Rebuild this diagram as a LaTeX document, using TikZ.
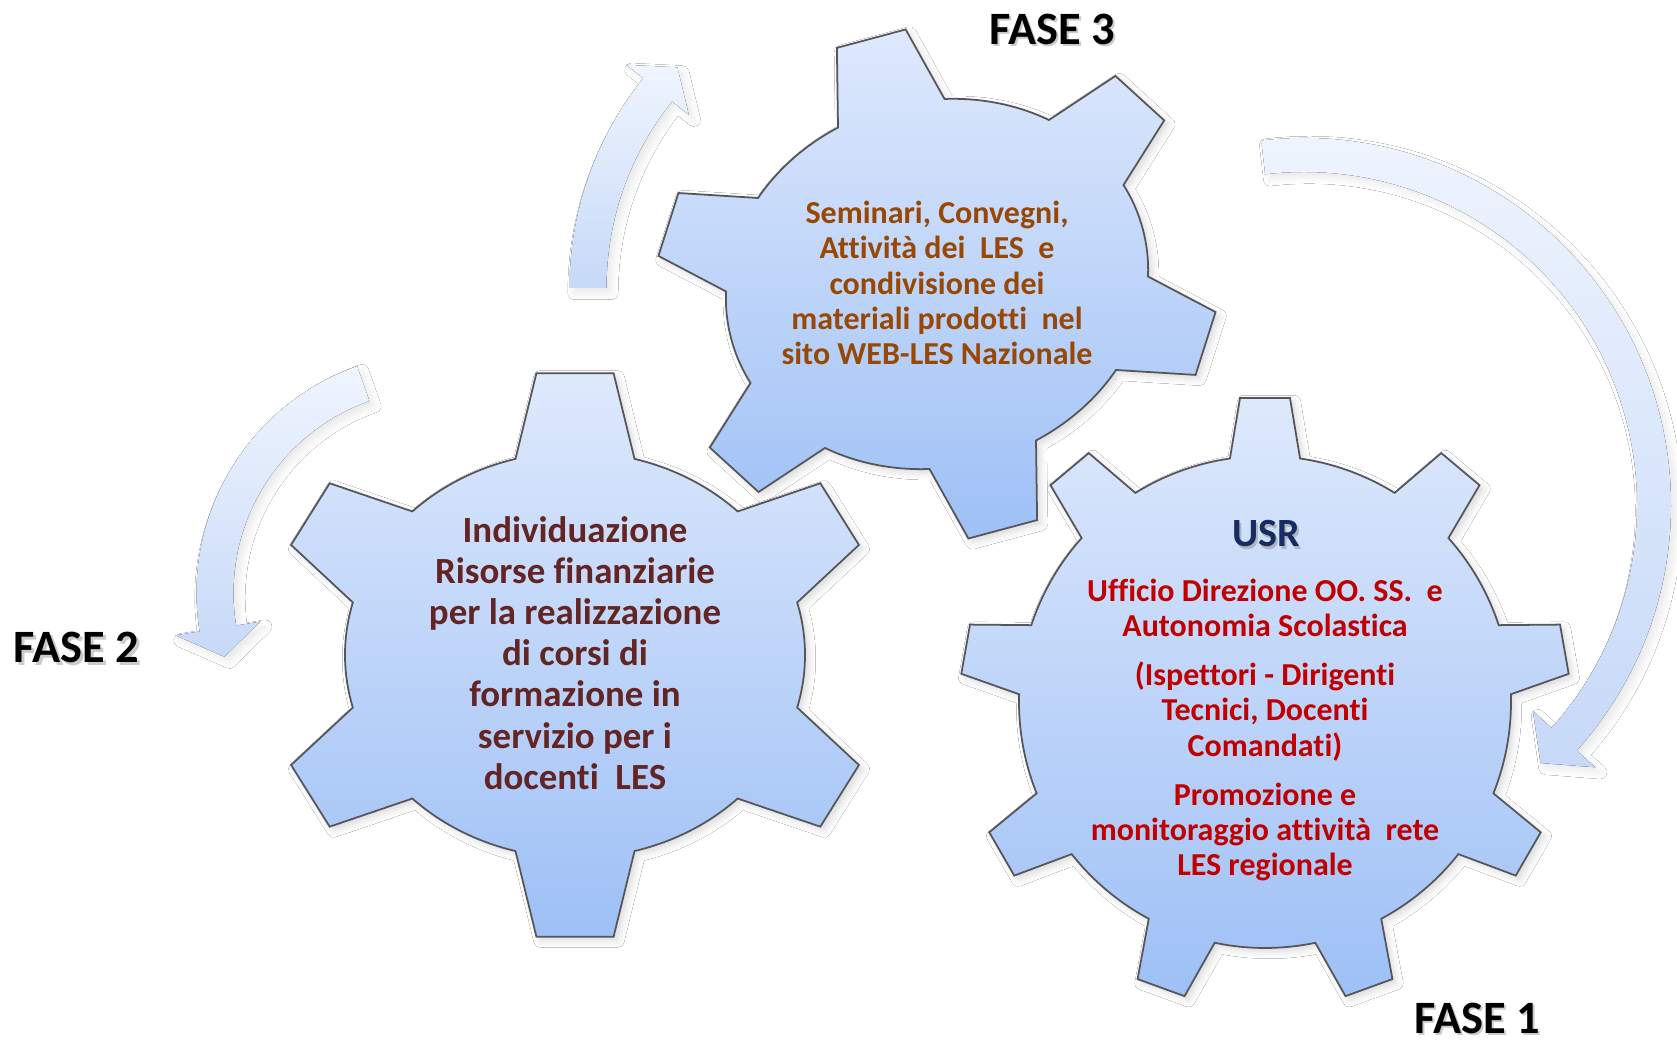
\documentclass[tikz,border=0pt]{standalone}
\usepackage{fontspec}
\setmainfont{Carlito}[Ligatures=NoCommon]
\usetikzlibrary{calc, shadows.blur}

\definecolor{gearlight}{RGB}{222,233,252}
\definecolor{geardark}{RGB}{158,192,246}
\definecolor{gearline}{RGB}{85,85,90}
\definecolor{arrowlight}{RGB}{240,245,254}
\definecolor{arrowdark}{RGB}{198,217,248}
\definecolor{fundtext}{RGB}{99,37,35}
\definecolor{eventtext}{RGB}{152,72,6}
\definecolor{usrblue}{RGB}{22,44,98}
\definecolor{usrred}{RGB}{192,0,0}

\tikzset{
    gear-body/.style={
        draw=gearline, line width=.5pt, top color=gearlight, bottom color=geardark,
        blur shadow={shadow xshift=.4mm, shadow yshift=-.4mm, shadow opacity=15, shadow blur steps=6}
    },
    arrow-band/.style={
        top color=arrowlight, bottom color=arrowdark,
        blur shadow={shadow xshift=.5mm, shadow yshift=-.5mm, shadow opacity=9, shadow blur steps=6}
    },
    phase-label/.style={font=\fontsize{13.2}{15}\selectfont\bfseries, inner sep=0pt},
    phase-shadow/.style={phase-label, text=black!40, opacity=.5},
    fund-text/.style={font=\fontsize{10.5}{11.72}\selectfont\bfseries, align=center, text=fundtext},
    event-text/.style={font=\fontsize{9.1}{10.04}\selectfont\bfseries, align=center, text=eventtext},
    usr-title/.style={font=\fontsize{11.4}{13}\selectfont\bfseries, inner sep=0pt},
    usr-text/.style={font=\fontsize{9.1}{10.04}\selectfont\bfseries, align=center, text=usrred},
}

% gear: centre, rotation, teeth, body radii (x,y), tip radii (x,y), base half angle, tip half angle
\newcommand{\gearpath}[9]{%
    \pgfmathsetmacro{\gearstep}{360/#3}%
    \pgfmathtruncatemacro{\gearlast}{#3-1}%
    \draw[gear-body, shift={(#1)}, rotate=#2]
        ({90-#8}:#4cm and #5cm)
        \foreach \k in {0,...,\gearlast}{
            -- ({90+\k*\gearstep-#9}:#6cm and #7cm)
            -- ({90+\k*\gearstep+#9}:#6cm and #7cm)
            -- ({90+\k*\gearstep+#8}:#4cm and #5cm)
            arc[start angle={90+\k*\gearstep+#8}, end angle={90+(\k+1)*\gearstep-#8},
                x radius=#4cm, y radius=#5cm]
        } -- cycle;
}

% bent block arrow: centre, radius, start, end, half width, head half width, tip angle
\newcommand{\bendarrow}[7]{%
    \pgfmathsetmacro{\arcout}{#2+#5}\pgfmathsetmacro{\arcin}{#2-#5}%
    \pgfmathsetmacro{\headout}{#2+#6}\pgfmathsetmacro{\headin}{#2-#6}%
    \fill[arrow-band]
        ($(#1)+(#3:\arcout)$) arc[start angle=#3, end angle=#4, radius=\arcout]
        -- ($(#1)+(#4:\headout)$) -- ($(#1)+(#7:#2)$) -- ($(#1)+(#4:\headin)$)
        -- ($(#1)+(#4:\arcin)$) arc[start angle=#4, end angle=#3, radius=\arcin]
        -- cycle;
}

\begin{document}
\begin{tikzpicture}

        \useasboundingbox (0,0) rectangle (16.77,10.43);
        \fill[white] (0,0) rectangle (16.77,10.43);

        % GEAR CENTRES
        \coordinate (G2) at (5.75,3.88);
        \coordinate (G3) at (9.37,7.59);
        \coordinate (G1) at (12.65,3.41);

        % ARROW CENTRES
        \coordinate (A1) at (13.04,5.38);
        \coordinate (A2) at (4.37,4.50);
        \coordinate (A3) at (9.05,7.55);

        % ARROWS
        \bendarrow{A1}{3.50}{96.7}{-42}{0.17}{0.42}{-47.5}
        \bendarrow{A2}{2.22}{109.4}{189.2}{0.185}{0.43}{196.7}
        \bendarrow{A3}{3.17}{180}{141.3}{0.185}{0.40}{135.9}

        % GEARS
        \gearpath{G2}{0}{6}{2.30}{2.03}{3.08}{2.84}{15}{7.2}
        \gearpath{G3}{15}{6}{2.13}{1.83}{2.84}{2.56}{15}{7.2}
        \gearpath{G1}{0}{9}{2.46}{2.46}{3.05}{3.05}{8.2}{4.7}

        % GEAR TEXTS
        \node[fund-text]  (T2) at (5.75,3.90) {Individuazione\\Risorse finanziarie\\per la realizzazione\\di corsi di\\formazione in\\servizio per i\\docenti~ LES};
        \node[event-text] (T3) at (9.37,7.60) {Seminari, Convegni,\\Attività dei~ LES~ e\\condivisione dei\\materiali prodotti~ nel\\sito WEB-LES Nazionale};
        \node[usr-title, text=black!40, opacity=.6] at ($(12.66,5.09)+(.025,-.025)$) {USR};
        \node[usr-title, text=usrblue] (USR) at (12.66,5.09) {USR};
        \node[usr-text]   (T1) at (12.65,3.13) {Ufficio Direzione OO. SS.~ e\\Autonomia Scolastica\\[3.9pt](Ispettori - Dirigenti\\Tecnici, Docenti\\Comandati)\\[3.9pt]Promozione e\\monitoraggio attività~ rete\\LES regionale};

        % PHASE LABELS
        \coordinate (P1) at (14.77,0.25);
        \coordinate (P2) at (0.765,3.955);
        \coordinate (P3) at (10.52,10.14);
        \node[phase-shadow] at ($(P1)+(.025,-.025)$) {FASE 1};
        \node[phase-shadow] at ($(P2)+(.025,-.025)$) {FASE 2};
        \node[phase-shadow] at ($(P3)+(.025,-.025)$) {FASE 3};
        \node[phase-label] (F1) at (P1) {FASE 1};
        \node[phase-label] (F2) at (P2) {FASE 2};
        \node[phase-label] (F3) at (P3) {FASE 3};

\end{tikzpicture}
\end{document}
